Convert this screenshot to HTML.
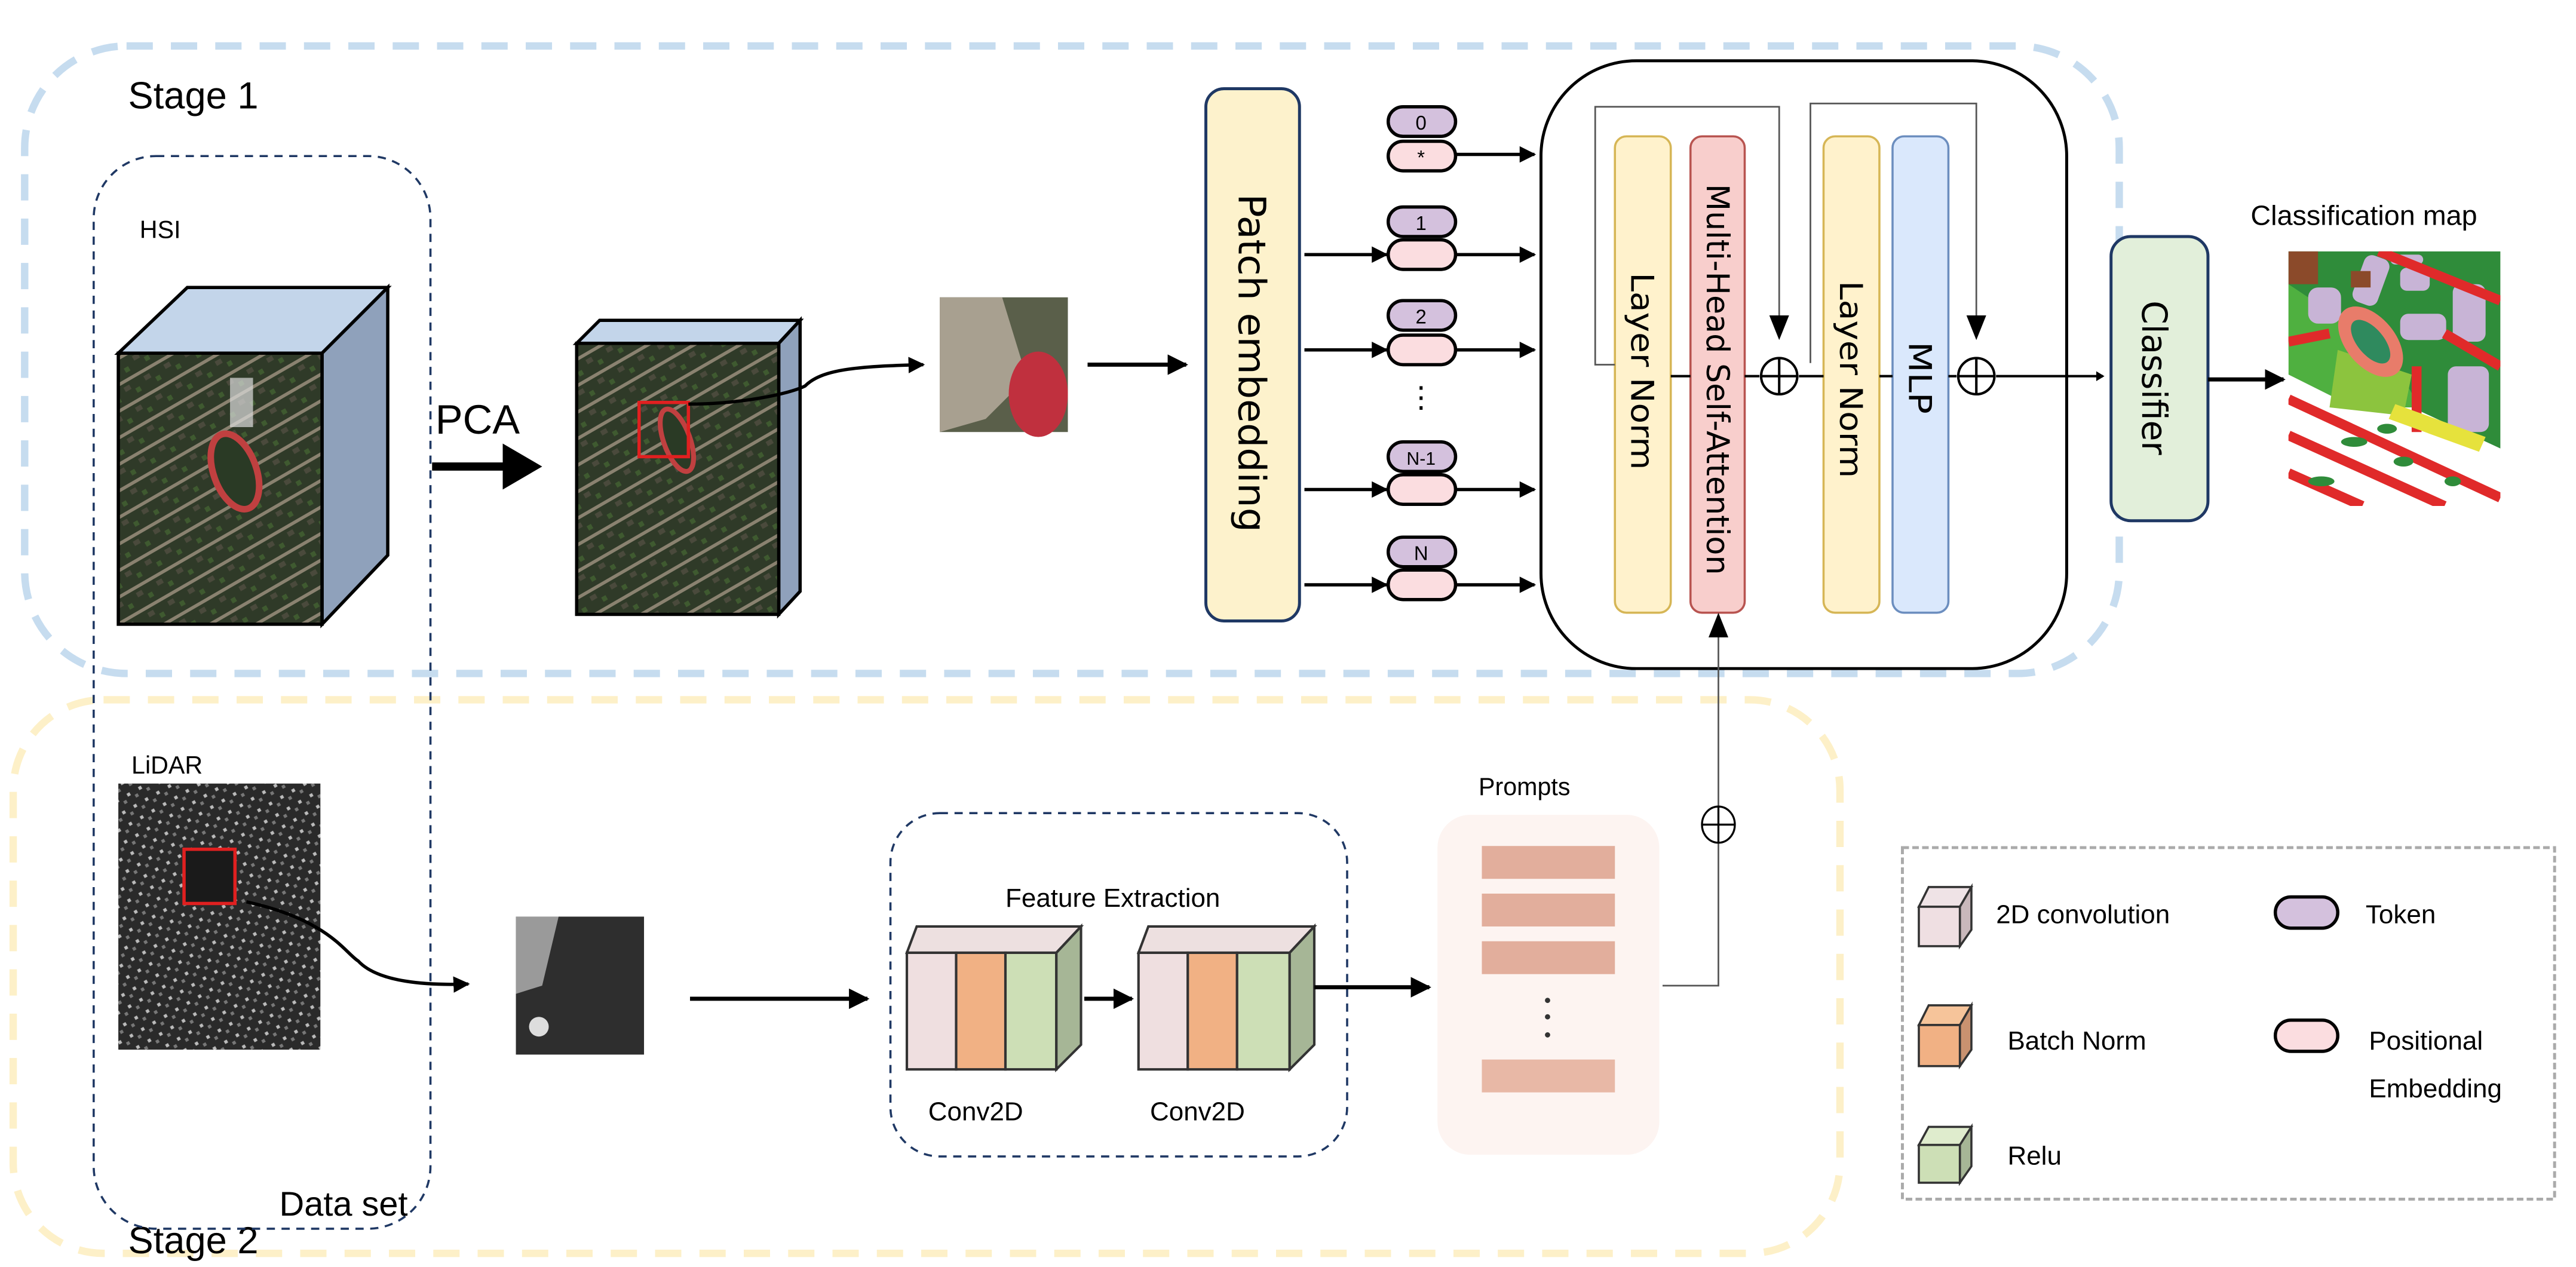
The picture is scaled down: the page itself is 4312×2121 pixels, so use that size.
<!DOCTYPE html>
<html><head><meta charset="utf-8"><style>html,body{margin:0;padding:0;background:#fff}svg{display:block}</style></head>
<body>
<svg xmlns="http://www.w3.org/2000/svg" width="4312" height="2121" viewBox="0 0 1568 771.3" font-family="Liberation Sans, sans-serif">
<defs>
<marker id="ah" viewBox="0 0 10 10" refX="9" refY="5" markerWidth="5" markerHeight="5" orient="auto" markerUnits="strokeWidth"><path d="M0,0L10,5L0,10z" fill="#000"/></marker>
<pattern id="aer" width="14" height="14" patternUnits="userSpaceOnUse" patternTransform="rotate(-30)">
<rect width="14" height="14" fill="#2f3a28"/><rect x="0" y="0" width="14" height="2" fill="#8a8270"/><rect x="3" y="4" width="4" height="3" fill="#4a4a3c"/><rect x="9" y="8" width="3" height="3" fill="#3f5a30"/></pattern>
<pattern id="lid" width="8" height="8" patternUnits="userSpaceOnUse" patternTransform="rotate(-30)">
<rect width="8" height="8" fill="#2a2a2a"/><rect x="1" y="1" width="2" height="2" fill="#bbb"/><rect x="5" y="4" width="2" height="2" fill="#777"/></pattern>
</defs>

<rect x="15" y="28" width="1275" height="382" rx="62" fill="none" stroke="#c6dcef" stroke-width="4.5" stroke-dasharray="16 11"/>
<rect x="8" y="426" width="1112" height="337" rx="55" fill="none" stroke="#fdf0c8" stroke-width="4.5" stroke-dasharray="16 11"/>
<text x="78" y="66" font-size="23">Stage 1</text>
<text x="78" y="763" font-size="23">Stage 2</text>

<rect x="57" y="95" width="205" height="653" rx="38" fill="none" stroke="#1f3864" stroke-width="1.3" stroke-dasharray="5 4"/>
<text x="85" y="145" font-size="15">HSI</text>
<text x="80" y="471" font-size="15">LiDAR</text>
<text x="170" y="740" font-size="21">Data set</text>

<polygon points="72,215 114,175 236,175 196,215" fill="#c3d5ea" stroke="#000" stroke-width="2"/>
<polygon points="196,215 236,175 236,338 196,380" fill="#8fa1bb" stroke="#000" stroke-width="2"/>
<rect x="72" y="215" width="124" height="165" fill="url(#aer)" stroke="#000" stroke-width="2"/>
<ellipse cx="143" cy="287" rx="13" ry="24" transform="rotate(-20 143 287)" fill="#2a3a25" stroke="#c04040" stroke-width="4"/>
<rect x="140" y="230" width="14" height="30" fill="#ddd" opacity=".7"/>

<text x="265" y="264" font-size="25">PCA</text>
<line x1="263" y1="284" x2="312" y2="284" stroke="#000" stroke-width="5"/>
<polygon points="306,270 330,284 306,298" fill="#000"/>

<polygon points="351,209 365,195 487,195 474,209" fill="#c3d5ea" stroke="#000" stroke-width="2"/>
<polygon points="474,209 487,195 487,360 474,374" fill="#8fa1bb" stroke="#000" stroke-width="2"/>
<rect x="351" y="209" width="123" height="165" fill="url(#aer)" stroke="#000" stroke-width="2"/>
<ellipse cx="412" cy="268" rx="8" ry="20" transform="rotate(-20 412 268)" fill="#2a3a25" stroke="#c04040" stroke-width="3"/>
<rect x="389" y="245" width="30" height="33" fill="none" stroke="#e02020" stroke-width="2"/>
<path d="M419,246 C450,246 480,240 490,235 C500,225 520,223 562,222" fill="none" stroke="#000" stroke-width="2" marker-end="url(#ah)"/>
<rect x="572" y="181" width="78" height="82" fill="#5a5f4a"/>
<polygon points="572,181 610,181 625,230 600,255 572,263" fill="#a8a090"/>
<ellipse cx="632" cy="240" rx="18" ry="26" fill="#c0303e"/>
<line x1="662" y1="222" x2="722" y2="222" stroke="#000" stroke-width="2.5" marker-end="url(#ah)"/>

<rect x="734" y="54" width="57" height="324" rx="11" fill="#fdf2cc" stroke="#1f3864" stroke-width="1.8"/>
<text transform="translate(754,118) rotate(90)" font-family="DejaVu Sans, sans-serif" font-size="23" textLength="206" lengthAdjust="spacingAndGlyphs">Patch embedding</text>

<g stroke="#000" stroke-width="2" font-size="12" text-anchor="middle">
<rect x="845" y="65" width="41" height="18" rx="9" fill="#d4c1dd"/><text x="865" y="79" stroke="none">0</text>
<rect x="845" y="86" width="41" height="18" rx="9" fill="#fbdde0"/><text x="865" y="100" stroke="none">*</text>
<rect x="845" y="126" width="41" height="18" rx="9" fill="#d4c1dd"/><text x="865" y="140" stroke="none">1</text>
<rect x="845" y="146" width="41" height="18" rx="9" fill="#fbdde0"/>
<rect x="845" y="183" width="41" height="18" rx="9" fill="#d4c1dd"/><text x="865" y="197" stroke="none">2</text>
<rect x="845" y="204" width="41" height="18" rx="9" fill="#fbdde0"/>
<rect x="845" y="269" width="41" height="18" rx="9" fill="#d4c1dd"/><text x="865" y="283" stroke="none" font-size="11">N-1</text>
<rect x="845" y="289" width="41" height="18" rx="9" fill="#fbdde0"/>
<rect x="845" y="327" width="41" height="18" rx="9" fill="#d4c1dd"/><text x="865" y="341" stroke="none">N</text>
<rect x="845" y="347" width="41" height="18" rx="9" fill="#fbdde0"/>
</g>
<text x="865" y="248" font-size="18" text-anchor="middle">⋮</text>
<g stroke="#000" stroke-width="2" marker-end="url(#ah)">
<line x1="886" y1="94" x2="934" y2="94"/>
<line x1="794" y1="155" x2="844" y2="155"/><line x1="886" y1="155" x2="934" y2="155"/>
<line x1="794" y1="213" x2="844" y2="213"/><line x1="886" y1="213" x2="934" y2="213"/>
<line x1="794" y1="298" x2="844" y2="298"/><line x1="886" y1="298" x2="934" y2="298"/>
<line x1="794" y1="356" x2="844" y2="356"/><line x1="886" y1="356" x2="934" y2="356"/>
</g>

<rect x="938" y="37" width="320" height="370" rx="58" fill="#fff" stroke="#000" stroke-width="1.8"/>
<rect x="983" y="83" width="34" height="290" rx="7" fill="#fff2cc" stroke="#d6b656" stroke-width="1.3"/>
<rect x="1029" y="83" width="33" height="290" rx="7" fill="#f8cecc" stroke="#b85450" stroke-width="1.3"/>
<rect x="1110" y="83" width="34" height="290" rx="7" fill="#fff2cc" stroke="#d6b656" stroke-width="1.3"/>
<rect x="1152" y="83" width="34" height="290" rx="7" fill="#dae8fc" stroke="#6c8ebf" stroke-width="1.3"/>
<g font-family="DejaVu Sans, sans-serif" font-size="19">
<text transform="translate(993,166) rotate(90)" textLength="120" lengthAdjust="spacingAndGlyphs">Layer Norm</text>
<text transform="translate(1039,112) rotate(90)" textLength="238" lengthAdjust="spacingAndGlyphs">Multi-Head Self-Attention</text>
<text transform="translate(1120,171) rotate(90)" textLength="120" lengthAdjust="spacingAndGlyphs">Layer Norm</text>
<text transform="translate(1162,208) rotate(90)" textLength="44" lengthAdjust="spacingAndGlyphs">MLP</text>
</g>
<g fill="none" stroke="#555" stroke-width="1">
<polyline points="983,222 971,222 971,65 1083,65 1083,200"/>
<polyline points="1102,221 1102,63 1203,63 1203,200"/>
</g>
<polygon points="1077,192 1089,192 1083,207" fill="#000"/>
<polygon points="1197,192 1209,192 1203,207" fill="#000"/>
<g stroke="#000" stroke-width="1.5">
<line x1="1017" y1="229" x2="1029" y2="229"/><line x1="1062" y1="229" x2="1071" y2="229"/>
<line x1="1095" y1="229" x2="1110" y2="229"/><line x1="1144" y1="229" x2="1152" y2="229"/>
<line x1="1186" y1="229" x2="1191" y2="229"/><line x1="1215" y1="229" x2="1280" y2="229"/>
<circle cx="1083" cy="229" r="11" fill="#fff"/><line x1="1072" y1="229" x2="1094" y2="229"/><line x1="1083" y1="218" x2="1083" y2="240"/>
<circle cx="1203" cy="229" r="11" fill="#fff"/><line x1="1192" y1="229" x2="1214" y2="229"/><line x1="1203" y1="218" x2="1203" y2="240"/>
</g>
<polygon points="1276,226 1281,229 1276,232" fill="#000"/>

<rect x="1285" y="144" width="59" height="173" rx="12" fill="#e2efda" stroke="#1f3864" stroke-width="1.8"/>
<text transform="translate(1304,183) rotate(90)" font-family="DejaVu Sans, sans-serif" font-size="21" textLength="94" lengthAdjust="spacingAndGlyphs">Classifier</text>
<line x1="1344" y1="231" x2="1390" y2="231" stroke="#000" stroke-width="2.5" marker-end="url(#ah)"/>
<text x="1370" y="137" font-size="17">Classification map</text>

<svg x="1393" y="153" width="129" height="155" viewBox="0 0 129 155">
<rect width="129" height="155" fill="#fff"/>
<polygon points="0,0 129,0 129,120 0,60" fill="#2f8c3a"/>
<polygon points="0,20 60,60 80,95 40,95 0,75" fill="#4fb040"/>
<polygon points="30,60 75,75 70,100 25,95" fill="#8cc43e"/>
<g fill="#c8b4d6"><rect x="12" y="22" width="20" height="22" rx="6"/><rect x="42" y="2" width="16" height="30" rx="5" transform="rotate(20 48 18)"/><rect x="68" y="38" width="28" height="16" rx="5"/><rect x="100" y="20" width="20" height="35" rx="5"/><rect x="97" y="70" width="25" height="40" rx="5"/><rect x="68" y="10" width="18" height="14" rx="4"/><rect x="62" y="2" width="20" height="6" rx="3"/></g>
<ellipse cx="50" cy="55" rx="15" ry="25" transform="rotate(-40 50 55)" fill="#e87c6a"/>
<ellipse cx="50" cy="55" rx="8" ry="16" transform="rotate(-40 50 55)" fill="#2f8a5e"/>
<g stroke="#e02a2a" stroke-width="6" fill="none"><line x1="0" y1="90" x2="129" y2="150"/><line x1="0" y1="112" x2="95" y2="155"/><line x1="0" y1="135" x2="45" y2="155"/><line x1="55" y1="0" x2="129" y2="30"/><line x1="78" y1="70" x2="78" y2="110"/><line x1="0" y1="55" x2="25" y2="50"/><line x1="95" y1="50" x2="129" y2="70"/></g>
<g fill="#2f8c3a"><ellipse cx="40" cy="116" rx="8" ry="3"/><ellipse cx="70" cy="128" rx="6" ry="3"/><ellipse cx="20" cy="140" rx="8" ry="3"/><ellipse cx="100" cy="140" rx="5" ry="3"/><ellipse cx="60" cy="108" rx="6" ry="3"/></g>
<polygon points="65,93 120,113 116,122 61,102" fill="#e6e23c"/>
<rect x="0" y="0" width="18" height="20" fill="#8b4a2a"/>
<rect x="38" y="12" width="12" height="10" fill="#8b4a2a"/>
</svg>

<rect x="72" y="477" width="123" height="162" fill="url(#lid)"/>
<rect x="112" y="517" width="31" height="33" fill="#1a1a1a" stroke="#e02020" stroke-width="2"/>
<path d="M150,549 C200,560 210,580 218,585 C230,598 260,600 285,599" fill="none" stroke="#000" stroke-width="2" marker-end="url(#ah)"/>
<rect x="314" y="558" width="78" height="84" fill="#2e2e2e"/>
<polygon points="314,558 340,558 330,600 314,605" fill="#9a9a9a"/>
<circle cx="328" cy="625" r="6" fill="#ddd"/>
<line x1="420" y1="608" x2="528" y2="608" stroke="#000" stroke-width="2.5" marker-end="url(#ah)"/>

<rect x="542" y="495" width="278" height="209" rx="30" fill="none" stroke="#1f3864" stroke-width="1.3" stroke-dasharray="5 4"/>
<text x="612" y="552" font-size="16">Feature Extraction</text>
<g stroke="#333" stroke-width="1.5">
<g>
<polygon points="552,580 558,564 658,564 643,580" fill="#ede0e0"/>
<rect x="552" y="580" width="30" height="71" fill="#efdfe0"/>
<rect x="582" y="580" width="30" height="71" fill="#f1b184"/>
<rect x="612" y="580" width="31" height="71" fill="#cddfb6"/>
<polygon points="643,580 658,564 658,636 643,651" fill="#a6b696"/>
</g>
<g>
<polygon points="693,580 699,564 800,564 785,580" fill="#ede0e0"/>
<rect x="693" y="580" width="30" height="71" fill="#efdfe0"/>
<rect x="723" y="580" width="30" height="71" fill="#f1b184"/>
<rect x="753" y="580" width="32" height="71" fill="#cddfb6"/>
<polygon points="785,580 800,564 800,636 785,651" fill="#a6b696"/>
</g>
</g>
<text x="565" y="682" font-size="16">Conv2D</text>
<text x="700" y="682" font-size="16">Conv2D</text>
<line x1="660" y1="608" x2="689" y2="608" stroke="#000" stroke-width="2.5" marker-end="url(#ah)"/>
<line x1="800" y1="601" x2="870" y2="601" stroke="#000" stroke-width="2.5" marker-end="url(#ah)"/>

<text x="900" y="484" font-size="15">Prompts</text>
<rect x="875" y="496" width="135" height="207" rx="20" fill="#fdf4f1"/>
<g fill="#e2ae9c"><rect x="902" y="515" width="81" height="20"/><rect x="902" y="544" width="81" height="20"/><rect x="902" y="573" width="81" height="20"/><rect x="902" y="645" width="81" height="20" fill="#e8b8a6"/></g>
<g fill="#333"><circle cx="942" cy="609" r="1.6"/><circle cx="942" cy="619" r="1.6"/><circle cx="942" cy="630" r="1.6"/></g>
<g stroke="#555" stroke-width="1" fill="none"><polyline points="1012,600 1046,600 1046,513"/><line x1="1046" y1="491" x2="1046" y2="378"/></g>
<polygon points="1040,388 1052,388 1046,373" fill="#000"/>
<g stroke="#000" stroke-width="1.2"><ellipse cx="1046" cy="502" rx="10" ry="11" fill="#fff"/><line x1="1036" y1="502" x2="1056" y2="502"/><line x1="1046" y1="491" x2="1046" y2="513"/></g>

<rect x="1158" y="516" width="397" height="214" fill="none" stroke="#aaa" stroke-width="1.8" stroke-dasharray="4 2"/>
<g stroke="#333" stroke-width="1.3">
<polygon points="1168,552 1174,540 1200,540 1193,552" fill="#efe3e6"/><rect x="1168" y="552" width="25" height="24" fill="#efdfe2"/><polygon points="1193,552 1200,540 1200,566 1193,576" fill="#c9b8bb"/>
<polygon points="1168,624 1174,612 1200,612 1193,624" fill="#f6c49a"/><rect x="1168" y="624" width="25" height="25" fill="#f1b184"/><polygon points="1193,624 1200,612 1200,639 1193,649" fill="#c99270"/>
<polygon points="1168,697 1174,686 1200,686 1193,697" fill="#dfeccd"/><rect x="1168" y="697" width="25" height="23" fill="#cddfb6"/><polygon points="1193,697 1200,686 1200,710 1193,720" fill="#a6b696"/>
</g>
<g stroke="#000" stroke-width="2"><rect x="1385" y="546" width="38" height="19" rx="9.5" fill="#d4c1dd"/><rect x="1385" y="621" width="38" height="19" rx="9.5" fill="#fbdde0"/></g>
<g font-size="16">
<text x="1215" y="562">2D convolution</text>
<text x="1440" y="562">Token</text>
<text x="1222" y="639">Batch Norm</text>
<text x="1442" y="639">Positional</text>
<text x="1442" y="668">Embedding</text>
<text x="1222" y="709">Relu</text>
</g>
</svg>
</body></html>
